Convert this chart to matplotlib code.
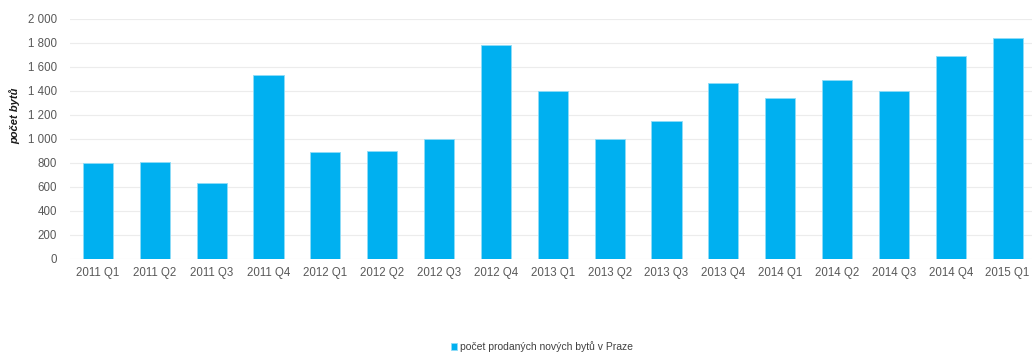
import matplotlib.pyplot as plt
from matplotlib.ticker import FuncFormatter, MultipleLocator

plt.rcParams['font.family'] = ['Liberation Sans', 'DejaVu Sans']

quarters = ["2011 Q1", "2011 Q2", "2011 Q3", "2011 Q4",
            "2012 Q1", "2012 Q2", "2012 Q3", "2012 Q4",
            "2013 Q1", "2013 Q2", "2013 Q3", "2013 Q4",
            "2014 Q1", "2014 Q2", "2014 Q3", "2014 Q4",
            "2015 Q1"]
sold = [800, 805, 630, 1535,
        890, 900, 1000, 1780,
        1400, 1003, 1150, 1465,
        1345, 1495, 1400, 1695,
        1840]
series_name = "počet prodaných nových bytů v Praze"
y_label = "počet bytů"

BLUE = "#00b0f0"
GRAY = "#595959"

fig = plt.figure(figsize=(10.32, 3.54), dpi=100)
ax = fig.add_axes([0.0674, 0.2684, 0.9365, 0.678])

x = range(len(quarters))
bars = ax.bar(x, sold, width=0.53, color=BLUE, edgecolor="#8fdcf7",
              linewidth=0.6, label=series_name, zorder=3)

ax.set_xlim(-0.5, len(quarters) - 0.5)
ax.set_ylim(0, 2000)
ax.yaxis.set_major_locator(MultipleLocator(200))
ax.yaxis.set_major_formatter(FuncFormatter(lambda v, p: f"{int(v):,}".replace(",", " ")))
ax.set_xticks(list(x))
ax.set_xticklabels(quarters)

ax.grid(axis="y", color="#ececec", linewidth=0.8, zorder=0)
for s in ax.spines.values():
    s.set_visible(False)
ax.tick_params(axis="both", length=0, colors=GRAY, labelsize=8.3)
ax.tick_params(axis="y", pad=9)
ax.tick_params(axis="x", pad=6)

ax.set_ylabel(y_label, fontsize=8, fontweight="bold", fontstyle="italic",
              color="#1a1a1a")
ax.yaxis.set_label_coords(-0.0515, 0.596)

fig.legend(handles=[bars], labels=[series_name], loc="center",
           bbox_to_anchor=(542 / 1032, 1 - 347 / 354), frameon=False,
           fontsize=7.5, handlelength=0.6, handleheight=0.6,
           handletextpad=0.3, labelcolor="#404040")

fig.savefig("out.png", dpi=100)
